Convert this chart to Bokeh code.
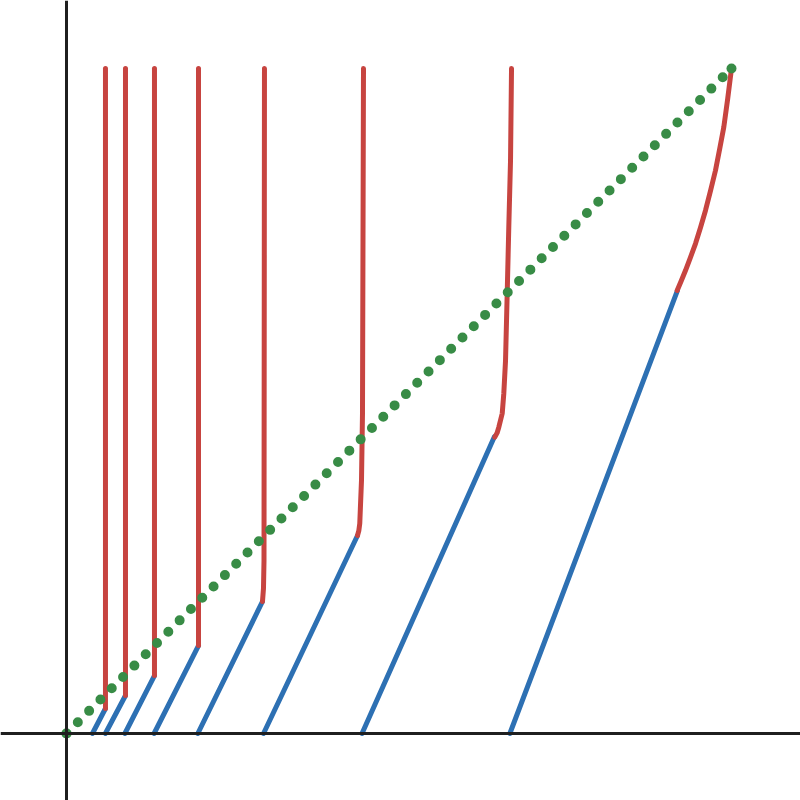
from bokeh.plotting import figure
from bokeh.models import ColumnDataSource, Span
from bokeh.embed import file_html
from bokeh.resources import INLINE

# Blue segments: start on the x-axis, end where the red curves begin
blue_x0 = [0.0390, 0.0585, 0.0878, 0.1317, 0.1975, 0.2963, 0.4444, 0.6667]
blue_x1 = [0.0586, 0.0887, 0.1323, 0.1985, 0.2947, 0.4376, 0.6436, 0.9188]
blue_y1 = [0.0376, 0.0571, 0.0872, 0.1323, 0.1985, 0.2977, 0.4466, 0.6662]

# Red curves (x, y)
red_xs = [
    [0.0586, 0.0586],
    [0.0887, 0.0887],
    [0.1323, 0.1323],
    [0.1985, 0.1985],
    [0.2947, 0.2962, 0.2970, 0.2977],
    [0.4376, 0.4396, 0.4410, 0.4436, 0.4451, 0.4466],
    [0.6441, 0.6475, 0.6501, 0.6552, 0.6576, 0.6602, 0.6627, 0.6651, 0.6677, 0.6692],
    [0.9183, 0.9245, 0.9308, 0.9383, 0.9459, 0.9534, 0.9609, 0.9684,
     0.9759, 0.9822, 0.9884, 0.9942, 1.0000],
]
red_ys = [
    [0.0376, 1.0],
    [0.0571, 1.0],
    [0.0872, 1.0],
    [0.1323, 1.0],
    [0.1985, 0.2180, 0.2602, 1.0],
    [0.2977, 0.3050, 0.3158, 0.3805, 0.4812, 1.0],
    [0.4456, 0.4520, 0.4606, 0.4812, 0.5113, 0.5609, 0.6617, 0.7614, 0.8617, 1.0],
    [0.6662, 0.6808, 0.6962, 0.7160, 0.7368, 0.7610, 0.7865, 0.8160,
     0.8466, 0.8790, 0.9117, 0.9540, 1.0],
]

# Green dotted diagonal
green_x = [0.0, 1.0]
green_y = [0.0, 1.0]

BLUE = "#2d70b3"
RED = "#c74440"
GREEN = "#388c46"

p = figure(width=800, height=800, output_backend="svg", toolbar_location=None,
           x_range=(-0.09925, 1.10376), y_range=(-0.10075, 1.10226),
           min_border=0, background_fill_color="white", border_fill_color="white")
p.axis.visible = False
p.grid.visible = False
p.outline_line_color = None

p.add_layout(Span(location=0, dimension="width", line_color="#1f1f1f", line_width=3))
p.add_layout(Span(location=0, dimension="height", line_color="#1f1f1f", line_width=3))

blue_src = ColumnDataSource(dict(
    xs=[[a, b] for a, b in zip(blue_x0, blue_x1)],
    ys=[[0.0, c] for c in blue_y1],
))
p.multi_line(xs="xs", ys="ys", source=blue_src, line_color=BLUE, line_width=5,
             line_cap="round", line_join="round")

red_src = ColumnDataSource(dict(xs=red_xs, ys=red_ys))
p.multi_line(xs="xs", ys="ys", source=red_src, line_color=RED, line_width=5,
             line_cap="round", line_join="round")

p.line(green_x, green_y, line_color=GREEN, line_width=10, line_dash="0 16",
       line_cap="round")
p.scatter(green_x, green_y, size=10, fill_color=GREEN, line_color=None)

open("out.html", "w").write(file_html(p, INLINE))
